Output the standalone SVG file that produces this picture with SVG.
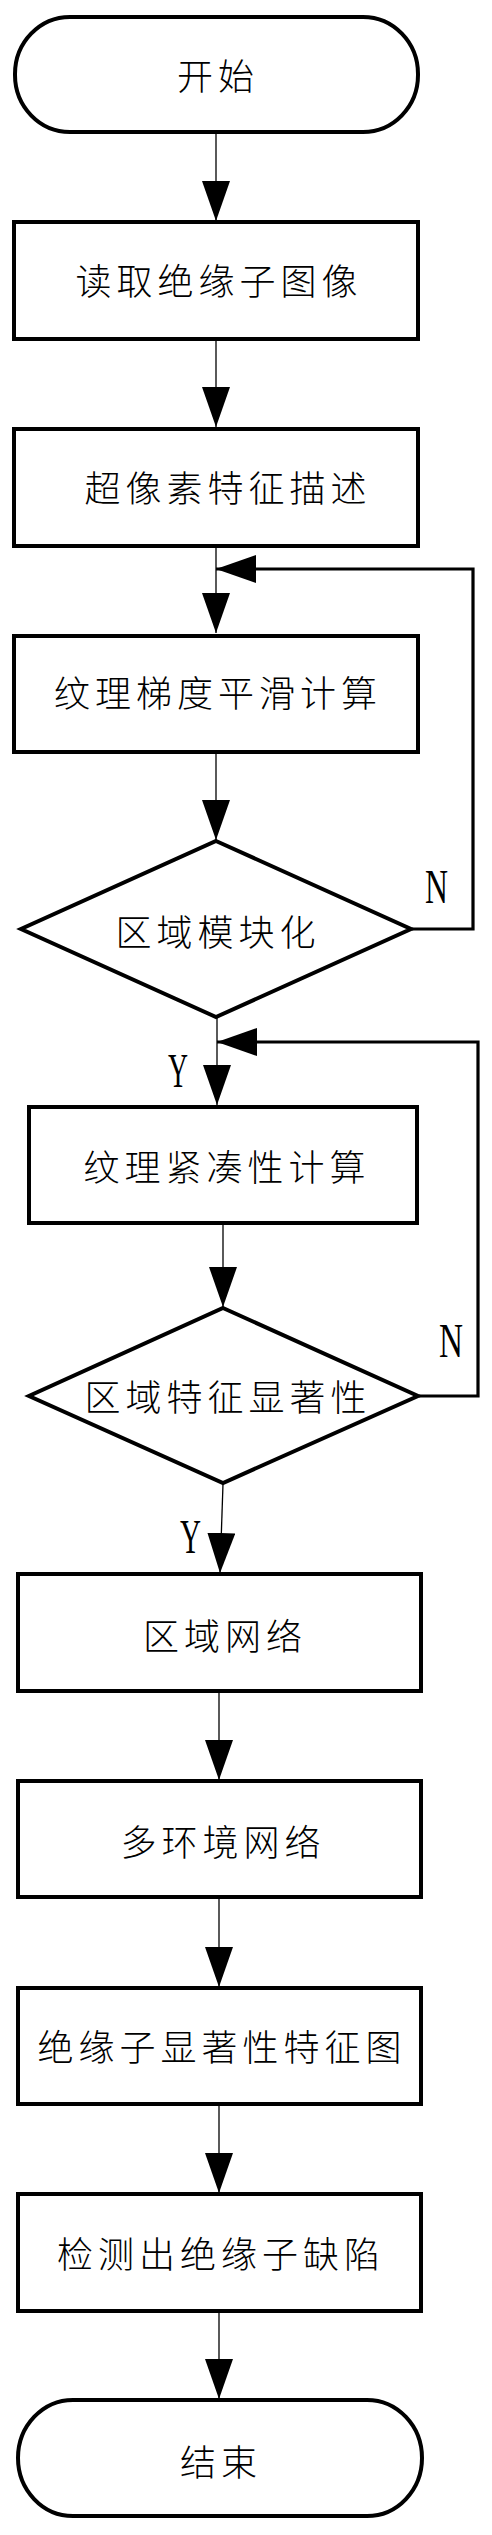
<svg xmlns="http://www.w3.org/2000/svg" width="492" height="2535" viewBox="0 0 492 2535">
<style>
.shape{fill:#fff;stroke:#000;stroke-width:4}
.lbl{font-family:"Noto Sans CJK SC","Noto Sans CJK JP",sans-serif;font-size:36px;font-weight:300;fill:#000;text-anchor:middle;dominant-baseline:central;letter-spacing:5px}
.yn{font-family:"Liberation Serif",serif;font-size:48px;fill:#000}
.conn{fill:none;stroke:#000;stroke-width:1.3}
.loop{fill:none;stroke:#000;stroke-width:3.2}
</style>
<defs>
<marker id="ah" markerUnits="userSpaceOnUse" markerWidth="40" markerHeight="28" refX="40" refY="14" orient="auto" viewBox="0 0 40 28">
<path d="M0,0 L40,14 L0,28 Z" fill="#000"/>
</marker>
</defs>
<rect width="492" height="2535" fill="#fff"/>
<g id="connectors">
<line class="conn" x1="216" y1="133" x2="216" y2="221" marker-end="url(#ah)"/>
<line class="conn" x1="216" y1="340" x2="216" y2="427" marker-end="url(#ah)"/>
<line class="conn" x1="216" y1="546" x2="216" y2="633" marker-end="url(#ah)"/>
<line class="conn" x1="216" y1="752" x2="216" y2="840" marker-end="url(#ah)"/>
<path class="loop" d="M412,929 H473 V569 H216" marker-end="url(#ah)"/>
<line class="conn" x1="217" y1="1018" x2="217" y2="1105" marker-end="url(#ah)"/>
<path class="loop" d="M419,1396 H478 V1042 H217" marker-end="url(#ah)"/>
<line class="conn" x1="223" y1="1224" x2="223" y2="1307" marker-end="url(#ah)"/>
<line class="conn" x1="223" y1="1484" x2="220" y2="1573" marker-end="url(#ah)"/>
<line class="conn" x1="219" y1="1692" x2="219" y2="1780" marker-end="url(#ah)"/>
<line class="conn" x1="219" y1="1898" x2="219" y2="1987" marker-end="url(#ah)"/>
<line class="conn" x1="219" y1="2105" x2="219" y2="2193" marker-end="url(#ah)"/>
<line class="conn" x1="219" y1="2312" x2="219" y2="2399" marker-end="url(#ah)"/>
<text class="yn" x="425" y="903" textLength="23" lengthAdjust="spacingAndGlyphs">N</text>
<text class="yn" x="168" y="1087" textLength="20" lengthAdjust="spacingAndGlyphs">Y</text>
<text class="yn" x="439" y="1357" textLength="24" lengthAdjust="spacingAndGlyphs">N</text>
<text class="yn" x="180" y="1553" textLength="21" lengthAdjust="spacingAndGlyphs">Y</text>
</g>
<g id="start">
<rect class="shape" x="15" y="17" width="403" height="115" rx="55" ry="57"/>
<text class="lbl" x="218" y="74">开始</text>
</g>
<g id="read">
<rect class="shape" x="14" y="222" width="404" height="117"/>
<text class="lbl" x="219" y="279">读取绝缘子图像</text>
</g>
<g id="superpixel">
<rect class="shape" x="14" y="429" width="404" height="117"/>
<text class="lbl" x="228" y="486">超像素特征描述</text>
</g>
<g id="gradient">
<rect class="shape" x="14" y="636" width="404" height="116"/>
<text class="lbl" x="218" y="691">纹理梯度平滑计算</text>
</g>
<g id="modular">
<polygon class="shape" points="216,841 411,929 216,1017 21,929"/>
<text class="lbl" x="218" y="930">区域模块化</text>
</g>
<g id="compact">
<rect class="shape" x="29" y="1107" width="388" height="116"/>
<text class="lbl" x="227" y="1165">纹理紧凑性计算</text>
</g>
<g id="salient">
<polygon class="shape" points="223,1308 418,1396 223,1483 29,1396"/>
<text class="lbl" x="228" y="1395">区域特征显著性</text>
</g>
<g id="regionnet">
<rect class="shape" x="18" y="1574" width="403" height="117"/>
<text class="lbl" x="225" y="1634">区域网络</text>
</g>
<g id="multienv">
<rect class="shape" x="18" y="1781" width="403" height="116"/>
<text class="lbl" x="223" y="1840">多环境网络</text>
</g>
<g id="saliencymap">
<rect class="shape" x="18" y="1988" width="403" height="116"/>
<text class="lbl" x="222" y="2045">绝缘子显著性特征图</text>
</g>
<g id="detect">
<rect class="shape" x="18" y="2194" width="403" height="117"/>
<text class="lbl" x="221" y="2252">检测出绝缘子缺陷</text>
</g>
<g id="end">
<rect class="shape" x="18" y="2400" width="404" height="116" rx="55" ry="58"/>
<text class="lbl" x="221" y="2460">结束</text>
</g>
</svg>
